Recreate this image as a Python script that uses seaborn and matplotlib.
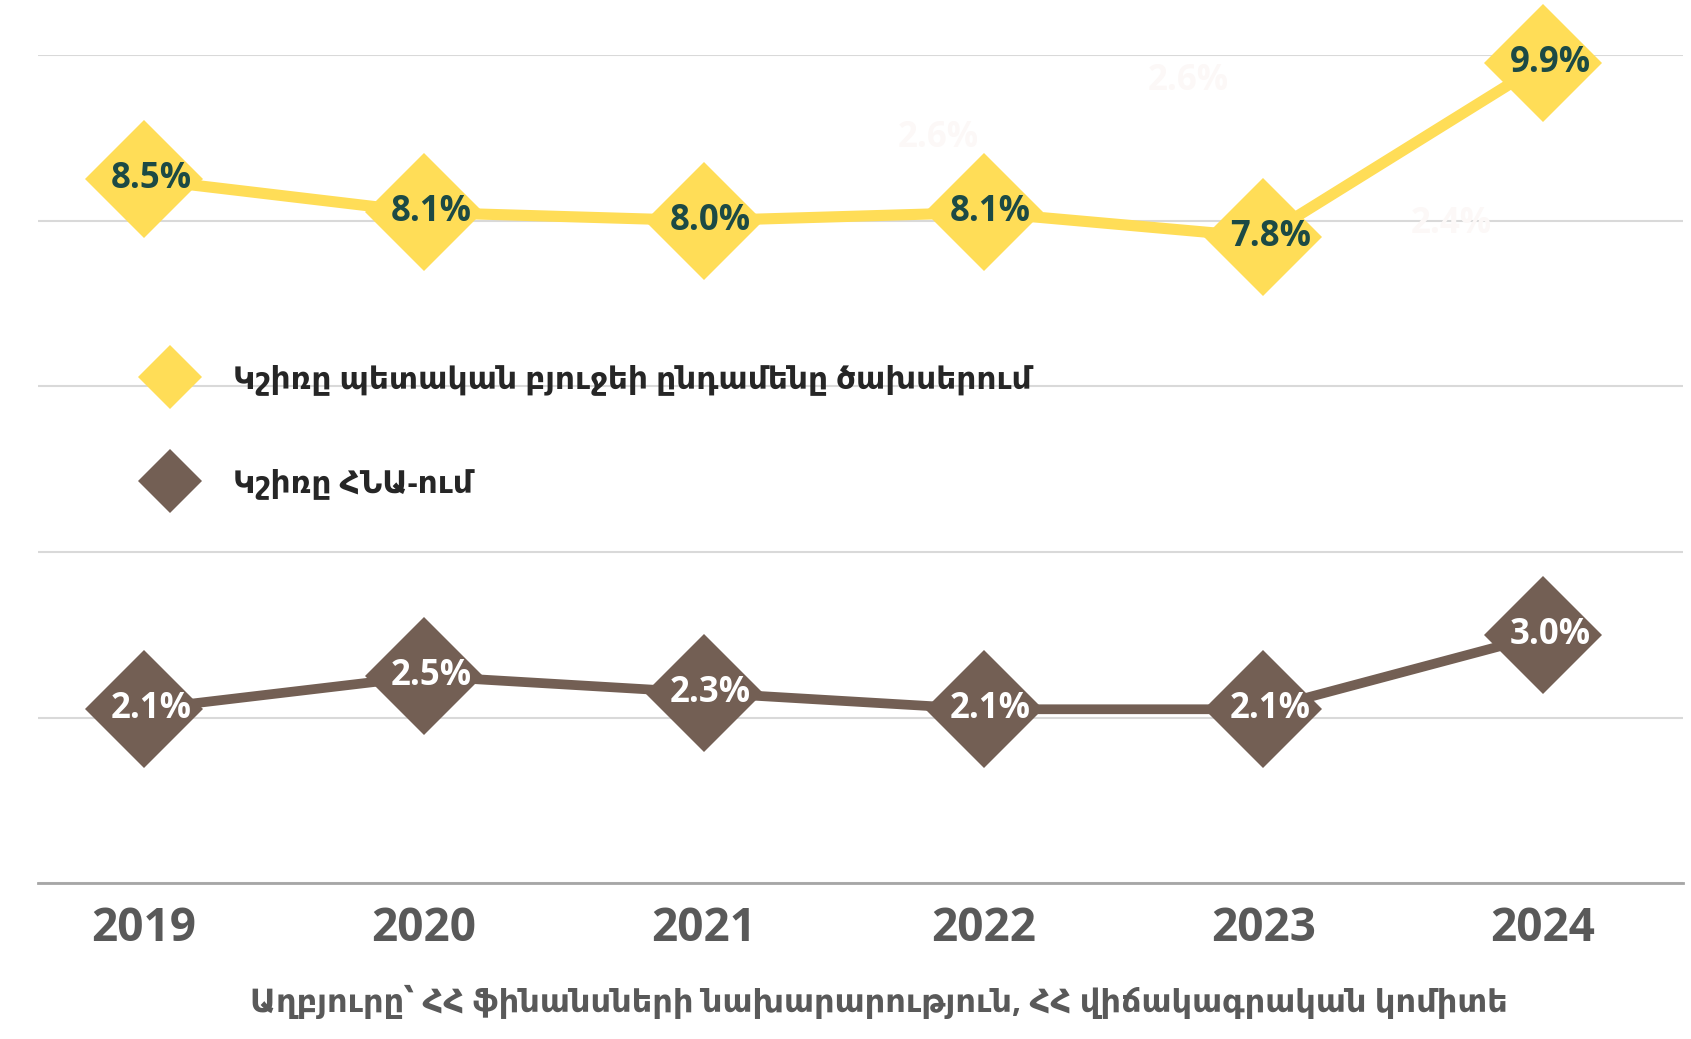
import seaborn as sns
import pandas as pd
import matplotlib.pyplot as plt
from matplotlib.lines import Line2D

# data
years = [2019, 2020, 2021, 2022, 2023, 2024]
budget_share = [8.5, 8.1, 8.0, 8.1, 7.8, 9.9]
gdp_share = [2.1, 2.5, 2.3, 2.1, 2.1, 3.0]
series_names = ['Կշիռը պետական բյուջեի ընդամենը ծախսերում', 'Կշիռը ՀՆԱ-ում']
# faint leftover labels visible in the background
ghost_x = [2021.84, 2022.73, 2023.67]
ghost_y = [9.0, 9.69, 7.96]
ghost_text = ['2.6%', '2.6%', '2.4%']
source = 'Աղբյուրը՝ ՀՀ ֆինանսների նախարարություն, ՀՀ վիճակագրական կոմիտե'

yellow = '#FFDD57'
brown = '#735F54'
fonts = ['Open Sans', 'DejaVu Sans']

sns.set_style('white')
plt.rcParams['font.family'] = fonts

df = pd.DataFrame({'year': years, 'budget': budget_share, 'gdp': gdp_share})

fig = plt.figure(figsize=(16.91, 10.39), dpi=100)
ax = fig.add_axes([0.0223, 0.150, 0.9730, 0.797])

sns.lineplot(x='year', y='budget', data=df, ax=ax, color=yellow, linewidth=8,
             marker='D', markersize=60, markeredgewidth=0, clip_on=False)
sns.lineplot(x='year', y='gdp', data=df, ax=ax, color=brown, linewidth=7,
             marker='D', markersize=60, markeredgewidth=0, clip_on=False)

for x, y in zip(years, budget_share):
    ax.annotate(f'{y:.1f}%', (x, y), xytext=(5, 0), textcoords='offset points',
                ha='center', va='center', fontsize=25, fontweight='bold', color='#1C4A45')
for x, y in zip(years, gdp_share):
    ax.annotate(f'{y:.1f}%', (x, y), xytext=(5, 0), textcoords='offset points',
                ha='center', va='center', fontsize=25, fontweight='bold', color='white')
for x, y, t in zip(ghost_x, ghost_y, ghost_text):
    ax.text(x, y, t, ha='center', va='center', fontsize=25, fontweight='bold', color='#FCF8F7')

ax.set_xlim(2018.62, 2024.5)
ax.set_ylim(0, 10)
ax.set_yticks([0, 2, 4, 6, 8, 10])
ax.set_yticklabels([])
ax.grid(axis='y', color='#D9D9D9', linewidth=1.5)
ax.set_xticks(years)
ax.set_xticklabels([str(y) for y in years], fontsize=33, fontweight='bold', color='#595959')
ax.tick_params(axis='x', length=0, pad=16)
ax.tick_params(axis='y', length=0)
ax.set_xlabel('')
ax.set_ylabel('')
for side in ['top', 'right', 'left']:
    ax.spines[side].set_visible(False)
ax.spines['bottom'].set_color('#A6A6A6')
ax.spines['bottom'].set_linewidth(2)

handles = [Line2D([], [], linestyle='none', marker='D', markersize=33, color=yellow, markeredgewidth=0),
           Line2D([], [], linestyle='none', marker='D', markersize=33, color=brown, markeredgewidth=0)]
ax.legend(handles, series_names, loc='upper left', bbox_to_anchor=(0.0443, 0.661),
          frameon=False, labelspacing=2.35, handletextpad=1.02,
          prop={'family': fonts, 'weight': 'bold', 'size': 22.5})

fig.text(0.52, 0.035, source, ha='center', va='center', fontsize=23, fontweight='bold',
         color='#595959', family=fonts)

fig.savefig('out.png', dpi=100)
